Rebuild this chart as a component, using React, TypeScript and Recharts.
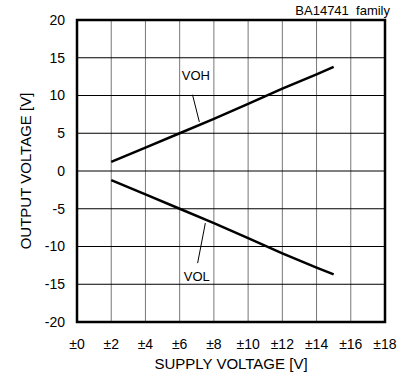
import { LineChart, Line, XAxis, YAxis, CartesianGrid, ReferenceArea, ReferenceLine, ReferenceDot } from 'recharts';

// supply voltage (±V) and output swing
const supply = [2, 4, 6, 8, 10, 12, 14, 15];
const voh = [1.2, 3.1, 5.0, 6.9, 8.9, 10.9, 12.8, 13.8];
const vol = [-1.2, -3.1, -5.0, -6.9, -8.9, -10.9, -12.8, -13.7];

const xTicks = [0, 2, 4, 6, 8, 10, 12, 14, 16, 18];
const yTicks = [-20, -15, -10, -5, 0, 5, 10, 15, 20];

// annotation: label position and leader segment [from, to]
const vohNote = { text: 'VOH', x: 6.95, y: 12.6, leader: [{ x: 6.75, y: 10.1 }, { x: 7.15, y: 6.5 }] };
const volNote = { text: 'VOL', x: 7.0, y: -13.9, leader: [{ x: 7.05, y: -12.2 }, { x: 7.5, y: -6.9 }] };

const data = supply.map((s, i) => ({ s, voh: voh[i], vol: vol[i] }));

const FONT = '"Liberation Sans", Arial, sans-serif';

export default function App() {
  return (
    <div style={{ position: 'absolute', left: 0, top: 0, width: 406, height: 383, background: '#fff', fontFamily: FONT }}>
      <div style={{ position: 'absolute', right: 16, top: 3, fontSize: 13, color: '#000', whiteSpace: 'pre' }}>
        BA14741  family
      </div>
      <LineChart width={406} height={383} data={data} margin={{ top: 20, right: 21, bottom: 0, left: 0 }}>
        <CartesianGrid horizontal={false} stroke="#777" strokeWidth={1} />
        <CartesianGrid vertical={false} stroke="#000" strokeWidth={1} />
        <XAxis
          type="number"
          dataKey="s"
          domain={[0, 18]}
          ticks={xTicks}
          tickFormatter={(v) => `±${v}`}
          interval={0}
          height={61}
          tickLine={false}
          axisLine={false}
          tickSize={0}
          tickMargin={17}
          tick={{ fill: '#000', fontSize: 14, fontFamily: FONT }}
          label={{ value: 'SUPPLY VOLTAGE [V]', position: 'center', dy: 11, fill: '#000', fontSize: 15, fontFamily: FONT }}
        />
        <YAxis
          type="number"
          domain={[-20, 20]}
          ticks={yTicks}
          interval={0}
          width={77}
          tickLine={false}
          axisLine={false}
          tickSize={0}
          tickMargin={12}
          tick={{ fill: '#000', fontSize: 14, fontFamily: FONT }}
          label={{ value: 'OUTPUT VOLTAGE [V]', angle: -90, position: 'center', dx: -13, fill: '#000', fontSize: 15, fontFamily: FONT }}
        />
        <ReferenceArea x1={0} x2={18} y1={-20} y2={20} fill="none" stroke="#000" strokeWidth={2.5} ifOverflow="visible" />
        <Line type="linear" dataKey="voh" stroke="#000" strokeWidth={2.5} dot={false} isAnimationActive={false} />
        <Line type="linear" dataKey="vol" stroke="#000" strokeWidth={2.5} dot={false} isAnimationActive={false} />
        {[vohNote, volNote].map((n) => (
          <ReferenceLine key={n.text + 'l'} segment={n.leader} stroke="#000" strokeWidth={1} />
        ))}
        {[vohNote, volNote].map((n) => (
          <ReferenceDot
            key={n.text}
            x={n.x}
            y={n.y}
            r={0}
            fill="none"
            stroke="none"
            label={{ value: n.text, position: 'center', fill: '#000', fontSize: 13, fontFamily: FONT }}
          />
        ))}
      </LineChart>
    </div>
  );
}
